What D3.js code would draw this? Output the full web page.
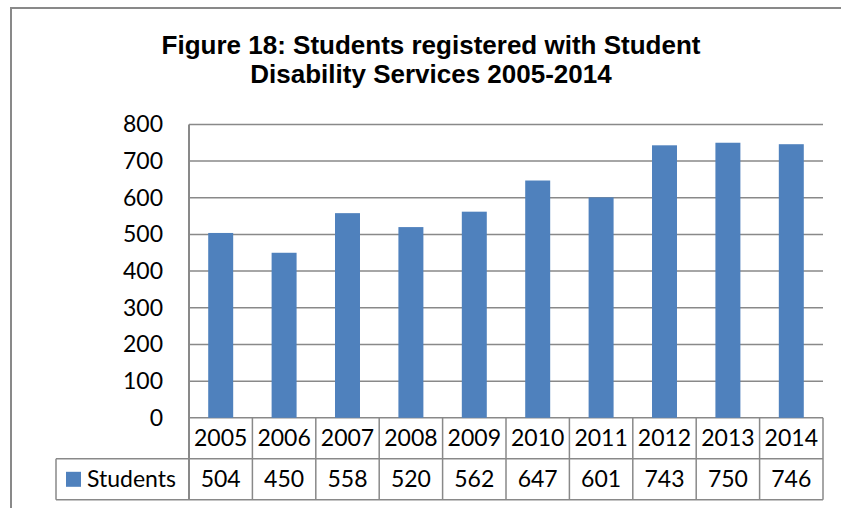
<!DOCTYPE html>
<html>
<head>
<meta charset="utf-8">
<script src="https://cdn.jsdelivr.net/npm/d3@7"></script>
<style>
    body { margin: 0; background: #fff; }
    svg { display: block; }
</style>
</head>
<body>
<svg id="chart" width="841" height="508"></svg>
<script>
var YEARS = ["2005", "2006", "2007", "2008", "2009", "2010", "2011", "2012", "2013", "2014"];
var STUDENTS = [504, 450, 558, 520, 562, 647, 601, 743, 750, 746];
var Y_TICKS = [0, 100, 200, 300, 400, 500, 600, 700, 800];
var SERIES_NAME = "Students";
var TITLE_LINES = ["Figure 18: Students registered with Student", "Disability Services 2005-2014"];

const drawChart = ({ selector }) => {
    const svg = d3.select(selector);
    const lineColor = '#898989';
    const barColor = '#4f81bd';
    const bodyFont = 'Lato, "Open Sans", sans-serif';
    const bodySize = 23;

    const margin = { top: 124.4, right: 18, left: 189 },
        width = 841,
        rowHeight = 41;

    const y = d3.scaleLinear().domain([0, 800]).range([417.8, margin.top]);
    const x = d3.scaleBand().domain(YEARS).range([margin.left, width - margin.right]);
    const xBar = d3.scaleBand().domain(YEARS).range([margin.left, width - margin.right])
        .paddingInner(0.606).paddingOuter(0.303);

    const tableTop = y(0),
        row1 = tableTop + rowHeight,
        row2 = row1 + rowHeight,
        legendLeft = 56;

    // outer frame
    svg.append('rect')
        .attr('x', 11).attr('y', 8)
        .attr('width', 860).attr('height', 560)
        .attr('fill', 'none')
        .attr('stroke', lineColor)
        .attr('stroke-width', 2);

    // title
    svg.append('g')
        .attr('font-family', '"Liberation Sans", Arial, sans-serif')
        .attr('font-weight', 'bold')
        .attr('font-size', 26)
        .attr('text-anchor', 'middle')
        .selectAll('text')
        .data(TITLE_LINES)
        .join('text')
        .attr('x', 431)
        .attr('y', (d, i) => 54 + i * 29.3)
        .text((d) => d);

    // gridlines
    svg.append('g')
        .selectAll('line')
        .data(Y_TICKS)
        .join('line')
        .attr('x1', margin.left).attr('x2', width - margin.right)
        .attr('y1', (d) => y(d)).attr('y2', (d) => y(d))
        .attr('stroke', lineColor)
        .attr('stroke-width', 1.5);

    // y axis labels
    const yAxis = (g) =>
        g
            .attr('transform', `translate(${margin.left},0)`)
            .call(d3.axisLeft(y).tickValues(Y_TICKS).tickSize(0).tickPadding(26))
            .call((g) => g.select('.domain').remove())
            .call((g) => g.selectAll('text')
                .attr('font-family', bodyFont)
                .attr('font-size', bodySize)
                .attr('fill', '#000'));
    svg.append('g').call(yAxis);

    // bars
    svg.append('g')
        .attr('fill', barColor)
        .selectAll('rect')
        .data(STUDENTS)
        .join('rect')
        .attr('x', (d, i) => xBar(YEARS[i]))
        .attr('y', (d) => y(d))
        .attr('width', xBar.bandwidth())
        .attr('height', (d) => y(0) - y(d));

    // data table
    const table = svg.append('g')
        .attr('stroke', lineColor)
        .attr('stroke-width', 1.5);
    const colEdges = YEARS.map((d) => x(d)).concat([width - margin.right]);
    table.selectAll('line.col')
        .data(colEdges)
        .join('line')
        .attr('class', 'col')
        .attr('x1', (d) => d).attr('x2', (d) => d)
        .attr('y1', tableTop).attr('y2', row2);
    table.selectAll('line.row')
        .data([row1, row2])
        .join('line')
        .attr('class', 'row')
        .attr('x1', legendLeft).attr('x2', width - margin.right)
        .attr('y1', (d) => d).attr('y2', (d) => d);
    table.append('line')
        .attr('x1', legendLeft).attr('x2', legendLeft)
        .attr('y1', row1).attr('y2', row2);
    // y axis line
    table.append('line')
        .attr('x1', margin.left).attr('x2', margin.left)
        .attr('y1', margin.top).attr('y2', row2)
        .attr('stroke-width', 2);

    const cells = svg.append('g')
        .attr('font-family', bodyFont)
        .attr('font-size', bodySize)
        .attr('text-anchor', 'middle')
        .attr('fill', '#000');
    cells.selectAll('text.year')
        .data(YEARS)
        .join('text')
        .attr('class', 'year')
        .attr('x', (d) => x(d) + x.bandwidth() / 2)
        .attr('y', tableTop + rowHeight / 2)
        .attr('dy', '0.35em')
        .text((d) => d);
    cells.selectAll('text.val')
        .data(STUDENTS)
        .join('text')
        .attr('class', 'val')
        .attr('x', (d, i) => x(YEARS[i]) + x.bandwidth() / 2)
        .attr('y', row1 + rowHeight / 2)
        .attr('dy', '0.35em')
        .text((d) => d);

    // legend key
    svg.append('rect')
        .attr('x', 66).attr('y', row1 + 13)
        .attr('width', 15).attr('height', 15)
        .attr('fill', barColor);
    cells.append('text')
        .attr('x', 87)
        .attr('y', row1 + rowHeight / 2)
        .attr('dy', '0.35em')
        .attr('text-anchor', 'start')
        .text(SERIES_NAME);
};

drawChart({ selector: '#chart' });
</script>
</body>
</html>
